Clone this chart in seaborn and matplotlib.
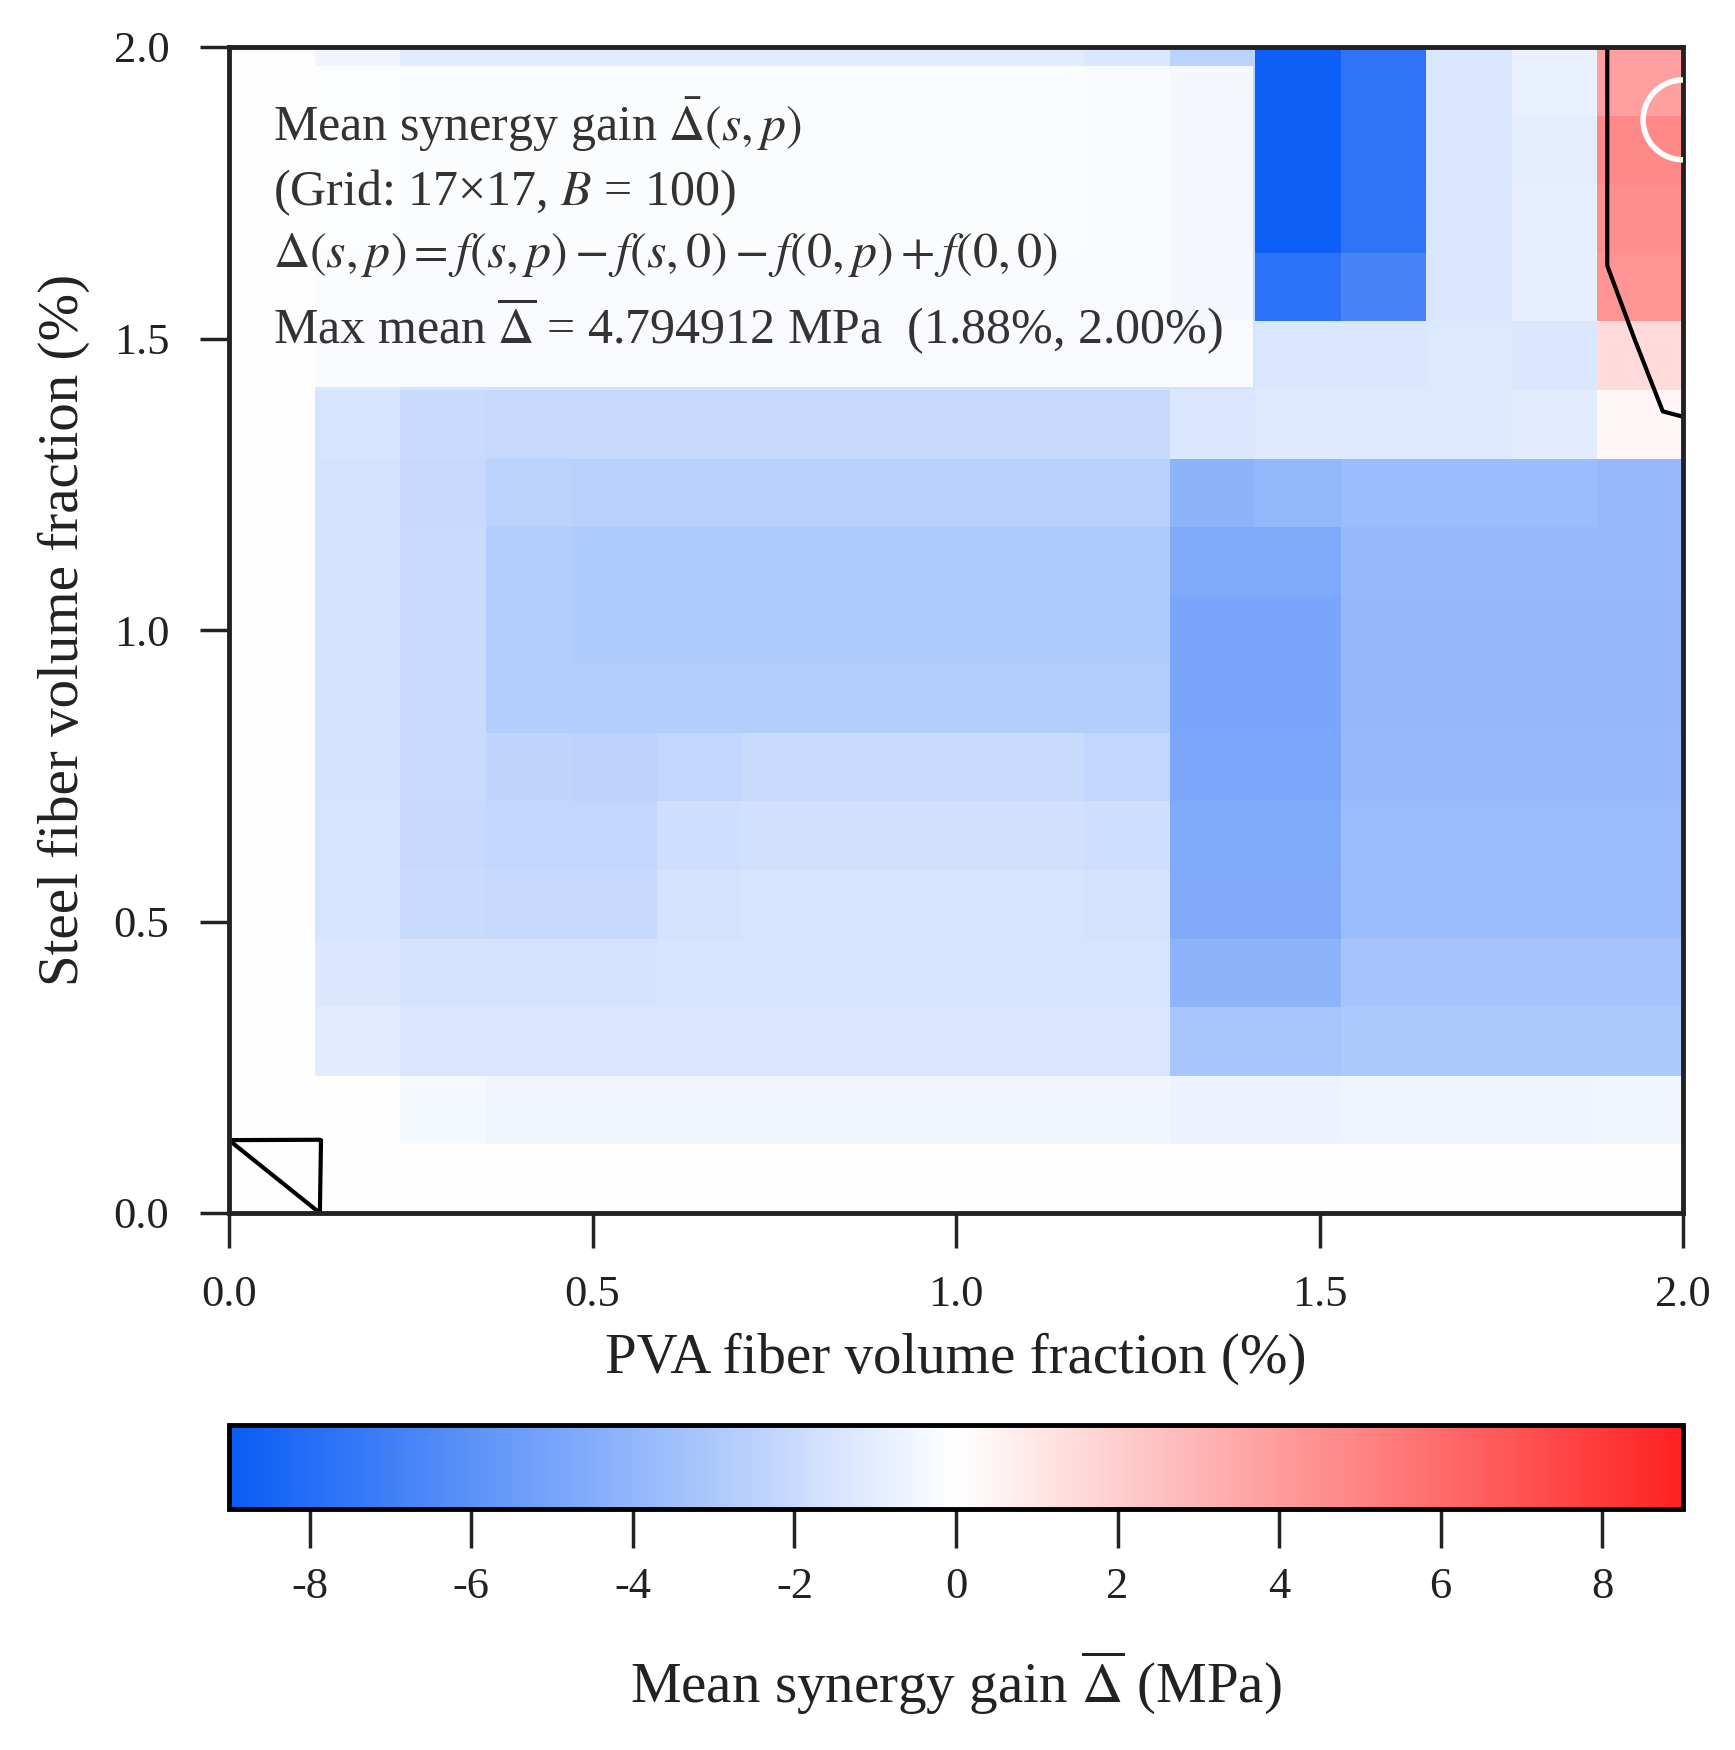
import numpy as np
import pandas as pd
import matplotlib
matplotlib.use("Agg")
import matplotlib.pyplot as plt
import seaborn as sns
from matplotlib.colors import LinearSegmentedColormap

# ---------------- data ----------------
pva_grid = [0.0, 0.125, 0.25, 0.375, 0.5, 0.625, 0.75, 0.875, 1.0,
            1.125, 1.25, 1.375, 1.5, 1.625, 1.75, 1.875, 2.0]
steel_grid = [0.0, 0.125, 0.25, 0.375, 0.5, 0.625, 0.75, 0.875, 1.0,
              1.125, 1.25, 1.375, 1.5, 1.625, 1.75, 1.875, 2.0]

# mean synergy gain, one row per steel fraction (bottom -> top), columns = PVA fraction
row_s000 = [0, 0, 0, 0, 0, 0, 0, 0, 0, 0, 0, 0, 0, 0, 0, 0, 0]
row_s012 = [0, 0.005, -0.4, -0.5, -0.5, -0.5, -0.5, -0.5, -0.5, -0.5, -0.5, -0.7, -0.7, -0.6, -0.6, -0.6, -0.5]
row_s025 = [0, -1.0, -1.4, -1.4, -1.4, -1.4, -1.4, -1.4, -1.4, -1.4, -1.4, -3.2, -3.2, -3.0, -3.0, -3.0, -3.0]
row_s038 = [0, -1.3, -1.6, -1.6, -1.6, -1.5, -1.5, -1.5, -1.5, -1.5, -1.5, -4.2, -4.2, -3.3, -3.3, -3.3, -3.3]
row_s050 = [0, -1.5, -2.0, -2.1, -2.1, -1.6, -1.5, -1.5, -1.5, -1.5, -1.6, -4.6, -4.6, -3.6, -3.6, -3.6, -3.6]
row_s062 = [0, -1.5, -2.1, -2.2, -2.2, -1.8, -1.7, -1.7, -1.7, -1.7, -1.8, -4.7, -4.7, -3.7, -3.7, -3.7, -3.7]
row_s075 = [0, -1.6, -2.0, -2.3, -2.4, -2.2, -2.0, -2.0, -2.0, -2.0, -2.2, -4.8, -4.8, -3.8, -3.8, -3.8, -3.8]
row_s088 = [0, -1.6, -2.0, -2.8, -2.8, -2.8, -2.8, -2.8, -2.8, -2.8, -2.8, -4.9, -4.9, -3.9, -3.9, -3.9, -3.9]
row_s100 = [0, -1.6, -2.0, -2.8, -2.9, -2.9, -2.9, -2.9, -2.9, -2.9, -2.9, -4.9, -4.9, -3.9, -3.9, -3.9, -3.9]
row_s112 = [0, -1.6, -2.0, -2.8, -2.9, -2.9, -2.9, -2.9, -2.9, -2.9, -2.9, -4.7, -4.7, -3.8, -3.8, -3.8, -3.8]
row_s125 = [0, -1.6, -2.1, -2.5, -2.6, -2.6, -2.6, -2.6, -2.6, -2.6, -2.6, -4.2, -4.0, -3.6, -3.6, -3.6, -3.8]
row_s138 = [0, -1.5, -2.0, -2.1, -2.1, -2.1, -2.1, -2.1, -2.1, -2.1, -2.1, -1.4, -1.2, -1.2, -1.2, -1.05, 0.3]
row_s150 = [0, -1.2, -1.6, -1.6, -1.6, -1.6, -1.6, -1.6, -1.6, -1.6, -1.6, -1.6, -1.3, -1.3, -1.2, -1.3, 1.5]
row_s162 = [0, -0.8, -1.2, -1.2, -1.2, -1.2, -1.2, -1.2, -1.2, -1.2, -1.5, -2.5, -7.8, -6.8, -1.4, -0.86, 4.3]
row_s175 = [0, -0.6, -1.0, -1.0, -1.0, -1.0, -1.0, -1.0, -1.0, -1.0, -1.3, -2.5, -8.8, -7.6, -1.4, -0.9, 4.5]
row_s188 = [0, -0.6, -1.0, -1.0, -1.0, -1.0, -1.0, -1.0, -1.0, -1.0, -1.3, -2.5, -8.8, -7.6, -1.3, -0.96, 4.794912]
row_s200 = [0, -0.6, -1.0, -1.0, -1.0, -1.0, -1.0, -1.0, -1.0, -1.0, -1.3, -2.5, -8.8, -7.6, -1.3, -0.78, 3.9]

max_value = 4.794912
max_steel = 1.875
max_pva = 2.0

axis_ticks = [0.0, 0.5, 1.0, 1.5, 2.0]
axis_ticklabels = ["0.0", "0.5", "1.0", "1.5", "2.0"]
cbar_ticks = [-8, -6, -4, -2, 0, 2, 4, 6, 8]
cbar_ticklabels = ["-8", "-6", "-4", "-2", "0", "2", "4", "6", "8"]
color_min, color_max = -9, 9

# ---------------- style ----------------
sns.set_theme(style="ticks")
plt.rcParams["font.family"] = ["Liberation Serif", "DejaVu Serif"]
plt.rcParams["mathtext.fontset"] = "stix"
plt.rcParams["axes.unicode_minus"] = False

Z = np.array([row_s000, row_s012, row_s025, row_s038, row_s050, row_s062,
              row_s075, row_s088, row_s100, row_s112, row_s125, row_s138,
              row_s150, row_s162, row_s175, row_s188, row_s200], dtype=float)

W, H = 1735, 1750
fig = plt.figure(figsize=(W / 100, H / 100), dpi=100)
rect = [229 / W, 1 - 1213 / H, 1454 / W, 1166 / H]
ax = fig.add_axes(rect)
cax = fig.add_axes([229 / W, 1 - 1509 / H, 1454 / W, 84 / H])

cmap = LinearSegmentedColormap.from_list("synergy", ["#0A5CF5", "#FFFFFF", "#FF2222"])
df = pd.DataFrame(Z[::-1], index=steel_grid[::-1], columns=pva_grid)
sns.heatmap(df, ax=ax, cmap=cmap, vmin=color_min, vmax=color_max,
            cbar_ax=cax, xticklabels=False, yticklabels=False,
            cbar_kws=dict(orientation="horizontal", ticks=cbar_ticks))
ax.set_xlabel("")
ax.set_ylabel("")
for sp in ax.spines.values():
    sp.set_visible(False)
ax.tick_params(left=False, bottom=False)

# overlay axes in physical units
ax2 = fig.add_axes(rect)
ax2.patch.set_visible(False)
ax2.set_xlim(0, 2)
ax2.set_ylim(0, 2)
ax2.contour(pva_grid, steel_grid, Z, levels=[0], colors="black", linewidths=3.0)
ax2.scatter([max_pva], [max_steel], s=3300, facecolors="none",
            edgecolors="white", linewidths=4, zorder=5)

ax2.set_xticks(axis_ticks)
ax2.set_xticklabels(axis_ticklabels)
ax2.set_yticks(axis_ticks)
ax2.set_yticklabels(axis_ticklabels)
ax2.tick_params(axis="x", direction="out", length=25, width=2.5, pad=20,
                labelsize=32, colors="#222222")
ax2.tick_params(axis="y", direction="out", length=21, width=2.5, pad=22,
                labelsize=32, colors="#222222")
for sp in ax2.spines.values():
    sp.set_linewidth(3.5)
    sp.set_color("#222222")
ax2.set_xlabel("PVA fiber volume fraction (%)", fontsize=41, labelpad=12, color="#222222")
ax2.set_ylabel("Steel fiber volume fraction (%)", fontsize=41, labelpad=17, color="#222222")

n = len(pva_grid)
info = "\n".join([
    r"Mean synergy gain $\bar{\Delta}(s,p)$",
    "(Grid: %d×%d, $B$ = 100)" % (n, n),
    r"$\Delta(s,p) = f(s,p) - f(s,0) - f(0,p) + f(0,0)$",
    r"Max mean $\overline{\Delta}$ = %.6f MPa  (%.2f%%, %.2f%%)" % (max_value, max_steel, max_pva),
])
ax2.text(0.030, 0.958, info, transform=ax2.transAxes, va="top", ha="left",
         fontsize=36, color="#333333", linespacing=1.35, zorder=6,
         bbox=dict(boxstyle="square,pad=0.6", facecolor="white",
                   edgecolor="none", alpha=0.85))

cbar = ax.collections[0].colorbar
cbar.outline.set_linewidth(3.5)
cbar.outline.set_edgecolor("black")
cbar.set_ticks(cbar_ticks)
cbar.set_ticklabels(cbar_ticklabels)
cax.tick_params(direction="out", length=28, width=2.5, pad=14, labelsize=32,
                colors="#222222")
cbar.set_label(r"Mean synergy gain $\overline{\Delta}$ (MPa)", fontsize=41,
               labelpad=30, color="#222222")

fig.savefig("out.png", dpi=100)
